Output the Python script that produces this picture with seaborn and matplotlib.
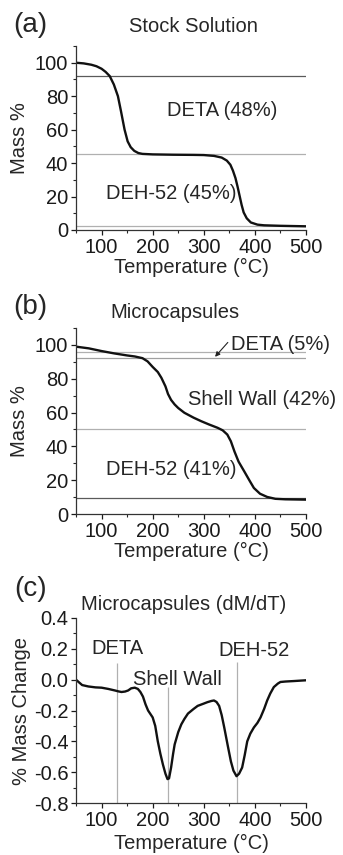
import matplotlib
matplotlib.use("Agg")
import matplotlib.pyplot as plt
from matplotlib.ticker import MultipleLocator
import seaborn as sns

sns.set_style("ticks")
plt.rcParams['font.family'] = ['Liberation Sans', 'DejaVu Sans']
FS = 14.5

# (a) stock solution TGA
temp_a = [50, 65, 80, 90, 100, 108, 116, 124, 132, 138, 145, 151, 157, 164, 172, 180,
          200, 240, 280, 300, 320, 335, 345, 352, 357, 362, 366, 370, 374, 378, 384,
          392, 405, 418, 450, 500]
mass_a = [100, 99.6, 98.8, 97.9, 96.4, 94.5, 92.0, 87.0, 80.0, 71.0, 60.0, 53.0, 49.5,
          47.3, 46.0, 45.5, 45.2, 45.0, 44.9, 44.8, 44.3, 43.3, 41.5, 39.0, 35.5, 31.0,
          26.0, 20.5, 15.0, 10.5, 7.0, 4.5, 3.2, 2.8, 2.5, 2.2]
hlines_a = [92.2, 45.2, 2.4]
hcolors_a = ['#5a5a5a', '#b0b0b0', '#b0b0b0']

# (b) microcapsules TGA
temp_b = [50, 75, 100, 125, 150, 165, 180, 190, 200, 210, 217, 225, 230, 236, 243, 250,
          262, 280, 295, 310, 327, 337, 346, 353, 360, 368, 379, 390, 398, 410, 424,
          440, 460, 500]
mass_b = [99, 98, 96.4, 95, 93.8, 93.2, 92.2, 90.3, 87, 84, 80.6, 75.5, 71, 67.5, 64.8,
          62.7, 59.9, 57, 54.9, 53, 51, 49.5, 47, 43, 37, 31, 25.3, 19.5, 15.4, 12,
          10.1, 9, 8.7, 8.5]
hlines_b = [96.0, 92.1, 50.4, 9.3]
hcolors_b = ['#b0b0b0', '#a0a0a0', '#b0b0b0', '#5a5a5a']

# (c) microcapsules DTG
temp_c = [50, 55, 62, 74, 88, 100, 113, 126, 133, 139, 146, 152, 158, 165, 171, 176,
          181, 186, 191, 196, 200, 205, 210, 215, 220, 225, 229, 232, 236, 240, 243,
          250, 256, 262, 269, 280, 288, 300, 307, 315, 320, 325, 330, 335, 340, 347,
          353, 358, 364, 369, 375, 380, 385, 391, 398, 405, 411, 418, 424, 430, 437,
          445, 450, 460, 476, 500]
dmdt_c = [0.0, -0.015, -0.035, -0.044, -0.05, -0.052, -0.06, -0.07, -0.076, -0.08,
          -0.077, -0.07, -0.056, -0.052, -0.06, -0.08, -0.11, -0.16, -0.2, -0.225,
          -0.245, -0.3, -0.4, -0.48, -0.55, -0.61, -0.645, -0.64, -0.57, -0.48, -0.42,
          -0.34, -0.29, -0.255, -0.22, -0.19, -0.17, -0.155, -0.146, -0.138, -0.135,
          -0.145, -0.17, -0.23, -0.31, -0.43, -0.53, -0.59, -0.626, -0.61, -0.57,
          -0.49, -0.40, -0.35, -0.31, -0.28, -0.245, -0.19, -0.135, -0.09, -0.048,
          -0.025, -0.015, -0.012, -0.009, -0.004]
vline_x = [131, 229, 364.5]
vline_top = [0.105, -0.05, 0.115]

fig = plt.figure(figsize=(3.43, 8.55), dpi=100)
ax_a = fig.add_axes([0.2216, 0.7310, 0.6706, 0.2152])
ax_b = fig.add_axes([0.2216, 0.3988, 0.6706, 0.2175])
ax_c = fig.add_axes([0.2216, 0.0608, 0.6706, 0.2164])

for y, c in zip(hlines_a, hcolors_a):
    ax_a.axhline(y, color=c, lw=0.9, zorder=1)
for y, c in zip(hlines_b, hcolors_b):
    ax_b.axhline(y, color=c, lw=0.9, zorder=1)
ax_c.vlines(vline_x, -0.8, vline_top, color='#b0b0b0', lw=0.9, zorder=1)

sns.lineplot(x=temp_a, y=mass_a, ax=ax_a, color='#111111', lw=1.7)
sns.lineplot(x=temp_b, y=mass_b, ax=ax_b, color='#111111', lw=1.7)
sns.lineplot(x=temp_c, y=dmdt_c, ax=ax_c, color='#111111', lw=1.7)

for ax in (ax_a, ax_b, ax_c):
    sns.despine(ax=ax)
    ax.set_xlim(50, 500)
    ax.xaxis.set_major_locator(MultipleLocator(100))
    ax.xaxis.set_minor_locator(MultipleLocator(50))
    ax.tick_params(which='major', direction='out', length=3.5, width=0.9, pad=2,
                   labelsize=FS, colors='#1a1a1a')
    ax.tick_params(which='minor', direction='out', length=2, width=0.8)
    for s in ('left', 'bottom'):
        ax.spines[s].set_linewidth(0.9)
        ax.spines[s].set_color('#333333')

for ax in (ax_a, ax_b):
    ax.set_ylim(0, 110)
    ax.yaxis.set_major_locator(MultipleLocator(20))
    ax.yaxis.set_minor_locator(MultipleLocator(10))
    ax.set_ylabel('Mass %', fontsize=FS, labelpad=4)
    ax.set_xlabel('Temperature (°C)', fontsize=FS, labelpad=1)

ax_c.set_ylim(-0.8, 0.4)
ax_c.yaxis.set_major_locator(MultipleLocator(0.2))
ax_c.yaxis.set_minor_locator(MultipleLocator(0.1))
ax_c.yaxis.set_major_formatter(lambda v, p: f"{v:.1f}".replace('-0.0', '0.0'))
ax_c.set_ylabel('% Mass Change', fontsize=FS, labelpad=2)
ax_c.set_xlabel('Temperature (°C)', fontsize=FS, labelpad=3)

# annotations
ax_a.text(336, 71.6, 'DETA (48%)', ha='center', va='center', fontsize=FS)
ax_a.text(236, 21.9, 'DEH-52 (45%)', ha='center', va='center', fontsize=FS)

ax_b.text(450, 100.4, 'DETA (5%)', ha='center', va='center', fontsize=FS)
ax_b.annotate('', xy=(322, 93), xytext=(347, 101.5),
              arrowprops=dict(arrowstyle='-|>', color='#222222', lw=0.8,
                              mutation_scale=7, shrinkA=0, shrinkB=0))
ax_b.text(414, 67.8, 'Shell Wall (42%)', ha='center', va='center', fontsize=FS)
ax_b.text(236, 26.3, 'DEH-52 (41%)', ha='center', va='center', fontsize=FS)

ax_c.text(132, 0.2, 'DETA', ha='center', va='center', fontsize=FS)
ax_c.text(249, 0.0, 'Shell Wall', ha='center', va='center', fontsize=FS)
ax_c.text(398, 0.19, 'DEH-52', ha='center', va='center', fontsize=FS)

# panel letters and titles
W, H = 343, 855
fig.text(13 / W, 1 - 25 / H, '(a)', ha='left', va='center', fontsize=20)
fig.text(193 / W, 1 - 26 / H, 'Stock Solution', ha='center', va='center', fontsize=FS)
fig.text(13 / W, 1 - 307 / H, '(b)', ha='left', va='center', fontsize=20)
fig.text(175 / W, 1 - 312 / H, 'Microcapsules', ha='center', va='center', fontsize=FS)
fig.text(14 / W, 1 - 589 / H, '(c)', ha='left', va='center', fontsize=20)
fig.text(184 / W, 1 - 604 / H, 'Microcapsules (dM/dT)', ha='center', va='center', fontsize=FS)

fig.savefig('out.png', dpi=100)
